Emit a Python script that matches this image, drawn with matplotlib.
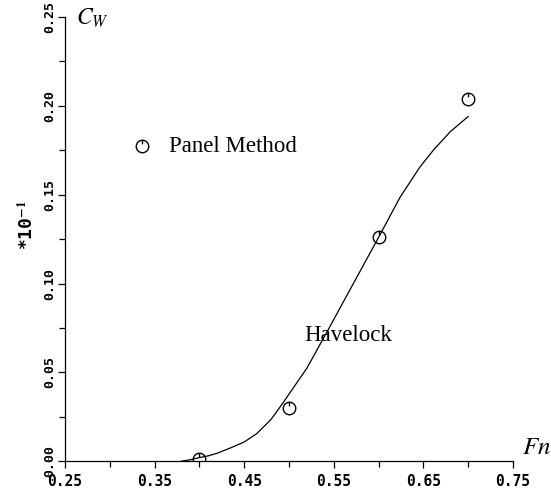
import matplotlib
matplotlib.use('Agg')
import matplotlib.pyplot as plt
import matplotlib.transforms as mtransforms
from matplotlib.path import Path
import numpy as np

plt.rcParams['mathtext.fontset'] = 'stix'

# panel method results
fn_panel = [0.40, 0.50, 0.60, 0.70]
cw_panel = [0.001, 0.030, 0.126, 0.204]

# Havelock curve
fn_hav = [0.38, 0.39, 0.40, 0.41, 0.42, 0.434, 0.45, 0.464, 0.48, 0.493, 0.52, 0.5435,
          0.566, 0.60, 0.624, 0.646, 0.661, 0.68, 0.70]
cw_hav = [0.0, 0.0008, 0.002, 0.003, 0.0045, 0.0073, 0.0108, 0.0155, 0.0235, 0.0326, 0.0524,
          0.0738, 0.0946, 0.126, 0.1486, 0.1655, 0.175, 0.1855, 0.194]

xticks = [0.25, 0.35, 0.45, 0.55, 0.65, 0.75]
yticks = [0.00, 0.05, 0.10, 0.15, 0.20, 0.25]

# circle with a short stroke from the top, like the plotted symbol
mark = Path.make_compound_path(Path.unit_circle(), Path([[0, 1], [0, 0.35]]))

fig = plt.figure(figsize=(5.51, 4.88), dpi=100)
ax = fig.add_axes([0.118, 0.055, 0.813, 0.91])

ax.plot(fn_hav, cw_hav, color='black', lw=0.9)
ax.plot(fn_panel, cw_panel, linestyle='none', marker=mark, ms=9,
        mfc='none', mec='black', mew=1.0)

# legend symbol and labels
ax.plot([0.336], [0.1774], linestyle='none', marker=mark, ms=9,
        mfc='none', mec='black', mew=1.0)
ax.text(0.366, 0.1774, 'Panel Method', family='Liberation Serif', fontsize=16.5,
        va='center', ha='left')
ax.text(0.566, 0.071, 'Havelock', family='Liberation Serif', fontsize=16.5,
        va='center', ha='center')

ax.set_xlim(0.25, 0.75)
ax.set_ylim(0.0, 0.25)
ax.spines['top'].set_visible(False)
ax.spines['right'].set_visible(False)
for s in ['left', 'bottom']:
    ax.spines[s].set_linewidth(0.9)

ax.set_xticks(xticks)
ax.set_xticks([0.30, 0.40, 0.50, 0.60, 0.70], minor=True)
ax.set_yticks(yticks)
ax.set_yticks([0.025, 0.075, 0.125, 0.175, 0.225], minor=True)
ax.set_xticklabels(['%.2f' % v for v in xticks], family='DejaVu Sans Mono',
                   fontweight='bold', fontsize=10.5)
ax.set_yticklabels(['%.2f' % v for v in yticks], family='DejaVu Sans Mono',
                   fontweight='bold', fontsize=9.5, rotation=90, va='center')
ax.tick_params(which='major', direction='out', length=5, width=0.9)
ax.tick_params(which='minor', direction='out', length=4, width=0.9)
ax.tick_params(axis='x', pad=4)
ax.tick_params(axis='y', pad=1)

# axis names
ax.text(0.024, 0.997, '$C_W$', transform=ax.transAxes, fontsize=17,
        ha='left', va='center')
ax.text(1.02, 0.032, '$Fn$', transform=ax.transAxes, fontsize=18,
        ha='left', va='center')
trans = mtransforms.blended_transform_factory(ax.transAxes, ax.transData)
ax.text(-0.085, 0.133, r'*10$^{\mathbf{-1}}$', transform=trans, rotation=90,
        family='DejaVu Sans Mono', fontweight='bold', fontsize=13,
        ha='center', va='center')

fig.savefig('out.png', dpi=100)
